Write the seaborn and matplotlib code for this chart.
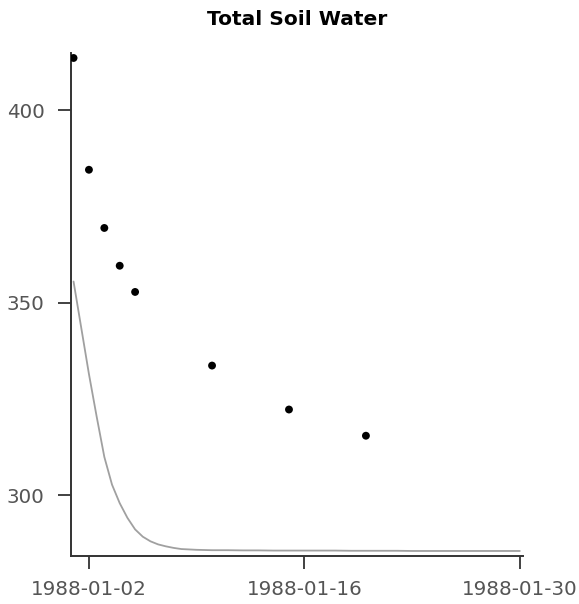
import matplotlib
matplotlib.use("Agg")
import matplotlib.pyplot as plt
import matplotlib.dates as mdates
import numpy as np
import pandas as pd
import seaborn as sns

# Observed total soil water (sampling dates and values)
obs_dates = ["1988-01-01", "1988-01-02", "1988-01-03", "1988-01-04",
             "1988-01-05", "1988-01-10", "1988-01-15", "1988-01-20"]
obs_values = [413.5, 384.5, 369.4, 359.6, 352.8, 333.7, 322.3, 315.5]

# Simulated total soil water: 12-hourly output for the first week, daily afterwards
sim_dates = (list(pd.date_range("1988-01-01", "1988-01-08", freq="12h"))
             + list(pd.date_range("1988-01-09", "1988-01-30", freq="D")))
sim_values = [355.5, 343.5, 331.5, 320.5, 310.0, 302.8, 298.0, 294.2,
              291.2, 289.3, 288.1, 287.3, 286.8, 286.4, 286.1,
              285.9, 285.8, 285.8, 285.75, 285.75, 285.7, 285.7, 285.7,
              285.7, 285.7, 285.65, 285.65, 285.65, 285.65, 285.6, 285.6,
              285.6, 285.6, 285.6, 285.6, 285.6, 285.6]

x_ticks = ["1988-01-02", "1988-01-16", "1988-01-30"]
y_ticks = [300, 350, 400]

obs = pd.DataFrame({"date": pd.to_datetime(obs_dates), "value": obs_values})
sim = pd.DataFrame({"date": sim_dates, "value": sim_values})

sns.set_theme(style="ticks")
plt.rcParams["font.family"] = ["DejaVu Sans"]

fig = plt.figure(figsize=(5.79, 6.04), dpi=100)
ax = fig.add_axes([0.1226, 0.0795, 0.7807, 0.8328])

sns.lineplot(data=sim, x="date", y="value", ax=ax, color="#a0a0a0", linewidth=1.3)
sns.scatterplot(data=obs, x="date", y="value", ax=ax, color="black", s=32,
                edgecolor="none", zorder=3)

ax.set_xlim(pd.Timestamp("1988-01-01") - pd.Timedelta(hours=4),
            pd.Timestamp("1988-01-30") + pd.Timedelta(hours=5))
ax.set_ylim(284.3, 414.8)

ax.set_xticks(pd.to_datetime(x_ticks))
ax.xaxis.set_major_formatter(mdates.DateFormatter("%Y-%m-%d"))
ax.set_yticks(y_ticks)

ax.set_xlabel("")
ax.set_ylabel("")
ax.set_title("Total Soil Water", fontsize=14.5, fontweight="bold", color="black", pad=20)

for side in ("top", "right"):
    ax.spines[side].set_visible(False)
for side in ("left", "bottom"):
    ax.spines[side].set_color("#333333")
    ax.spines[side].set_linewidth(1.4)

ax.tick_params(axis="both", length=9.5, width=1.3, color="#333333",
               labelsize=14.3, labelcolor="#555555", pad=8)
ax.tick_params(axis="y", pad=9.5)

fig.savefig("out.png", dpi=100)
